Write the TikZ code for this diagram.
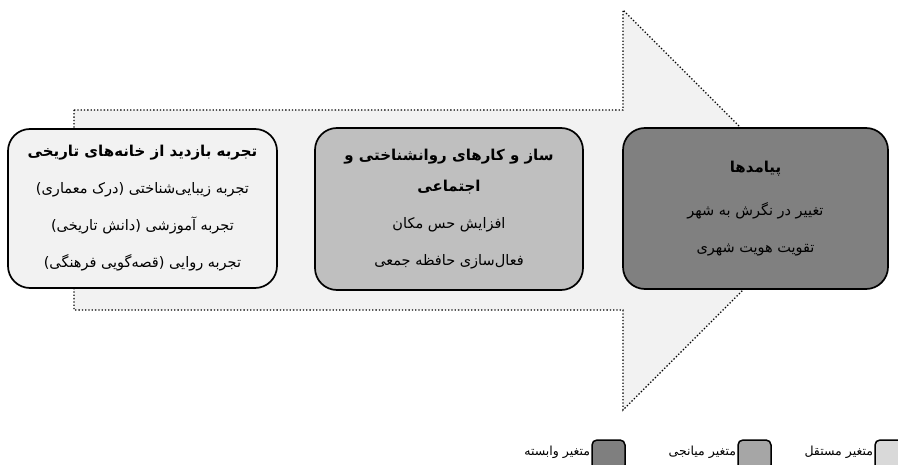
\documentclass[tikz,border=0pt]{standalone}
\usepackage{fontspec}
\usepackage{xcolor}
\TeXXeTstate=1
\newfontfamily\arabicfont[Script=Arabic]{DejaVu Sans}
\newcommand{\fa}[1]{\beginR #1\endR}
\definecolor{light}{HTML}{F2F2F2}
\definecolor{mid}{HTML}{BFBFBF}
\definecolor{dark}{HTML}{808080}
\definecolor{keylight}{HTML}{D9D9D9}
\definecolor{keymid}{HTML}{A6A6A6}
\definecolor{keydark}{HTML}{7F7F7F}

\begin{document}
\begin{tikzpicture}[x=1pt, y=-1pt,
	box/.style={draw, line width=1.7pt, rounded corners=22pt, align=center, inner sep=0pt,
		font=\arabicfont\fontsize{14.5}{37}\selectfont},
	key/.style={draw, line width=1.5pt, rounded corners=5pt, minimum width=33pt, minimum height=30pt, inner sep=0pt},
	keytext/.style={anchor=east, inner sep=1pt, font=\arabicfont\fontsize{12.5}{14}\selectfont}]
	%\draw[help lines] (0,0) grid (898,465);
	\clip (0,0) rectangle (898,465);
	\fill[white] (0,0) rectangle (898,465);
	
	\draw[dotted, line width=1.3pt, fill=light] (74,110) -- (623,110) -- (623,10) -- (823,210)
		-- (623,410) -- (623,310) -- (74,310) -- cycle;
	
	\node[box, fill=light, minimum width=269pt, minimum height=159pt] (0) at (142.5,208.5)
		{{\bfseries\fontsize{15}{37}\selectfont\fa{تجربه بازدید از خانه‌های تاریخی}}\\
		 \fa{تجربه زیبایی‌شناختی (درک معماری)}\\
		 \fa{تجربه آموزشی (دانش تاریخی)}\\
		 \fa{تجربه روایی (قصه‌گویی فرهنگی)}};
	\node[box, fill=mid, minimum width=268pt, minimum height=162pt] (1) at (449,209)
		{{\bfseries\fontsize{15}{37}\selectfont\fa{ساز و کارهای روانشناختی و}}\\[-6pt]
		 {\bfseries\fontsize{15}{37}\selectfont\fa{اجتماعی}}\\
		 \fa{افزایش حس مکان}\\
		 \fa{فعال‌سازی حافظه جمعی}};
	\node[box, fill=dark, minimum width=265pt, minimum height=161pt] (2) at (755.5,208.5)
		{{\bfseries\fontsize{15}{37}\selectfont\fa{پیامدها}}\\[6pt]
		 \fa{تغییر در نگرش به شهر}\\
		 \fa{تقویت هویت شهری}};
	
	\node[key, fill=keylight] (10) at (891.5,455) {};
	\node[key, fill=keymid] (11) at (754.5,455) {};
	\node[key, fill=keydark] (12) at (608.5,455) {};
	
	\node[keytext] (20) at ([yshift=3pt]10.west) {\fa{متغیر مستقل}};
	\node[keytext] (21) at ([yshift=3pt]11.west) {\fa{متغیر میانجی}};
	\node[keytext] (22) at ([yshift=3pt]12.west) {\fa{متغیر وابسته}};
\end{tikzpicture}
\end{document}
